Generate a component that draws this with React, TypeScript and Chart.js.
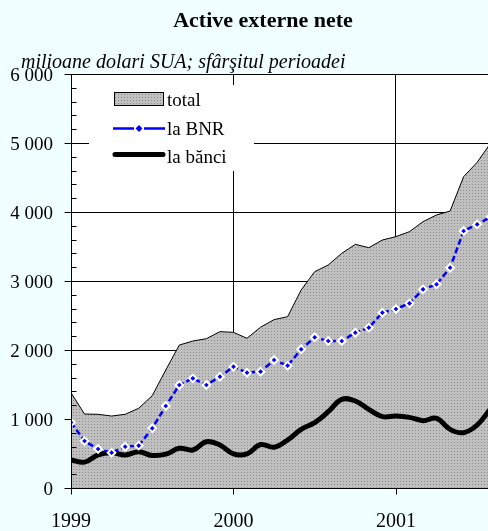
import React, { useEffect, useRef } from "react";
import { Chart, registerables } from "chart.js";

Chart.register(...registerables);

// month index, 0 = January 1999 (end of period)
const monthIndex = [0, 1, 2, 3, 4, 5, 6, 7, 8, 9, 10, 11, 12, 13, 14, 15, 16, 17, 18, 19, 20, 21, 22, 23, 24, 25, 26, 27, 28, 29, 30, 31];

const totalValues = [1380, 1072, 1068, 1043, 1068, 1155, 1338, 1710, 2072, 2130, 2164, 2266, 2256, 2169, 2330, 2440, 2483, 2870, 3135, 3232, 3401, 3531, 3483, 3594, 3643, 3715, 3860, 3957, 4014, 4512, 4720, 5000];
const bnrValues = [950, 681, 565, 512, 599, 614, 865, 1188, 1493, 1589, 1493, 1613, 1758, 1671, 1686, 1855, 1773, 2010, 2184, 2130, 2130, 2251, 2324, 2541, 2594, 2676, 2879, 2952, 3193, 3725, 3821, 3930];
const bankValues = [406, 375, 480, 510, 478, 525, 472, 490, 575, 551, 671, 623, 493, 495, 630, 590, 696, 850, 947, 1106, 1285, 1261, 1140, 1034, 1043, 1024, 976, 1010, 850, 802, 913, 1150];

const seriesNames = ["total", "la BNR", "la bănci"];
const xTickValues = [0, 12, 24];
const xTickLabels = ["1999", "2000", "2001"];
const yTickValues = [0, 1000, 2000, 3000, 4000, 5000, 6000];
const yTickLabels = ["0", "1 000", "2 000", "3 000", "4 000", "5 000", "6 000"];
const yMinorStep = 200;

const TITLE = "Active externe nete";
const SUBTITLE = "milioane dolari SUA; sfârşitul perioadei";

const BG = "#F0FFFF";
const BLUE = "#0000FF";
const SERIF = "'Liberation Serif', 'Times New Roman', serif";

function makePattern(ctx: CanvasRenderingContext2D) {
  const c = document.createElement("canvas");
  c.width = 3;
  c.height = 3;
  const p = c.getContext("2d")!;
  p.fillStyle = "#C0C0C0";
  p.fillRect(0, 0, 3, 3);
  p.fillStyle = "#8E8E8E";
  p.fillRect(1, 1, 1, 1);
  return ctx.createPattern(c, "repeat")!;
}

export default function App() {
  const ref = useRef<HTMLCanvasElement | null>(null);

  useEffect(() => {
    const canvas = ref.current!;
    const ctx0 = canvas.getContext("2d")!;
    const pattern = makePattern(ctx0);

    const decor = {
      id: "decor",
      beforeDraw(chart: any) {
        const { ctx, chartArea: a, width, height } = chart;
        ctx.save();
        ctx.fillStyle = BG;
        ctx.fillRect(0, 0, width, height);
        ctx.fillStyle = "#FFFFFF";
        ctx.fillRect(a.left, a.top, a.right - a.left, a.bottom - a.top);
        ctx.restore();
      },
      afterDatasetsDraw(chart: any) {
        const { ctx, chartArea: a } = chart;
        const xs = chart.scales.x;
        const ys = chart.scales.y;
        ctx.save();

        // legend box
        ctx.fillStyle = "#FFFFFF";
        ctx.fillRect(89, 85, 165, 86);
        // total swatch
        ctx.fillStyle = pattern;
        ctx.fillRect(114, 92, 49, 13);
        ctx.strokeStyle = "#000";
        ctx.lineWidth = 1;
        ctx.strokeRect(114.5, 92.5, 49, 13);
        // BNR sample
        ctx.strokeStyle = BLUE;
        ctx.lineWidth = 2.5;
        ctx.beginPath();
        ctx.moveTo(113, 128.5);
        ctx.lineTo(134, 128.5);
        ctx.moveTo(144, 128.5);
        ctx.lineTo(165, 128.5);
        ctx.stroke();
        ctx.fillStyle = BLUE;
        ctx.beginPath();
        ctx.moveTo(139, 125);
        ctx.lineTo(142.5, 128.5);
        ctx.lineTo(139, 132);
        ctx.lineTo(135.5, 128.5);
        ctx.closePath();
        ctx.fill();
        // banks sample
        ctx.strokeStyle = "#000";
        ctx.lineWidth = 5;
        ctx.lineCap = "round";
        ctx.beginPath();
        ctx.moveTo(115, 154.5);
        ctx.lineTo(163, 154.5);
        ctx.stroke();
        ctx.lineCap = "butt";
        ctx.fillStyle = "#000";
        ctx.font = `19px ${SERIF}`;
        ctx.textAlign = "left";
        ctx.textBaseline = "alphabetic";
        ctx.fillText(seriesNames[0], 167, 105.5);
        ctx.fillText(seriesNames[1], 167, 134.5);
        ctx.fillText(seriesNames[2], 167, 162.5);

        // axes lines
        const x0 = Math.round(xs.getPixelForValue(0)) + 0.5;
        const yb = Math.round(ys.getPixelForValue(0)) + 0.5;
        ctx.strokeStyle = "#000";
        ctx.lineWidth = 1;
        ctx.beginPath();
        ctx.moveTo(x0, a.top);
        ctx.lineTo(x0, yb);
        ctx.lineTo(a.right, yb);
        ctx.stroke();

        // y ticks
        ctx.beginPath();
        for (let v = 0; v <= 6000; v += yMinorStep) {
          const py = Math.round(ys.getPixelForValue(v)) + 0.5;
          if (v % 1000 === 0) {
            ctx.moveTo(x0 - 7, py);
            ctx.lineTo(x0, py);
          } else {
            ctx.moveTo(x0, py);
            ctx.lineTo(x0 + 5, py);
          }
        }
        // x ticks
        xTickValues.forEach((v) => {
          const px = Math.round(xs.getPixelForValue(v)) + 0.5;
          ctx.moveTo(px, yb);
          ctx.lineTo(px, yb + 6);
        });
        ctx.stroke();

        // y labels
        ctx.font = `19px ${SERIF}`;
        ctx.textAlign = "right";
        ctx.textBaseline = "alphabetic";
        yTickValues.forEach((v, i) => {
          const py = ys.getPixelForValue(v);
          ctx.fillText(yTickLabels[i], 53, py + 6.5);
        });
        // x labels
        ctx.font = `20px ${SERIF}`;
        ctx.textAlign = "center";
        xTickValues.forEach((v, i) => {
          const px = xs.getPixelForValue(v);
          ctx.fillText(xTickLabels[i], px, 527);
        });

        // titles
        ctx.font = `bold 22px ${SERIF}`;
        ctx.textAlign = "center";
        ctx.fillText(TITLE, 263, 26.5);
        ctx.font = `italic 20px ${SERIF}`;
        ctx.textAlign = "left";
        ctx.fillText(SUBTITLE, 21, 67.5);
        ctx.restore();
      },
    };

    const chart = new Chart(canvas, {
      type: "line",
      data: {
        datasets: [
          {
            label: seriesNames[1],
            data: monthIndex.map((m, i) => ({ x: m, y: bnrValues[i] })),
            borderColor: BLUE,
            borderWidth: 2.5,
            borderDash: [6, 3],
            fill: false,
            tension: 0,
            pointStyle: "rectRot",
            pointRadius: 3.8,
            pointBackgroundColor: BLUE,
            pointBorderColor: "#FFFFFF",
            pointBorderWidth: 2,
            order: 1,
          },
          {
            label: seriesNames[2],
            data: monthIndex.map((m, i) => ({ x: m, y: bankValues[i] })),
            borderColor: "#000000",
            borderWidth: 5,
            borderCapStyle: "round",
            borderJoinStyle: "round",
            fill: false,
            tension: 0.4,
            pointRadius: 0,
            order: 2,
          },
          {
            label: seriesNames[0],
            data: monthIndex.map((m, i) => ({ x: m, y: totalValues[i] })),
            borderColor: "#000000",
            borderWidth: 1,
            backgroundColor: pattern,
            fill: "origin",
            tension: 0,
            pointRadius: 0,
            order: 3,
          },
        ],
      },
      options: {
        responsive: false,
        animation: false,
        devicePixelRatio: 1,
        layout: { autoPadding: false, padding: { top: 74, left: 0, right: 0, bottom: 0 } },
        plugins: {
          legend: { display: false },
          tooltip: { enabled: false },
          title: { display: false },
        },
        scales: {
          x: {
            type: "linear",
            min: 0,
            max: 30.8,
            afterBuildTicks: (s: any) => {
              s.ticks = xTickValues.map((v) => ({ value: v }));
            },
            afterFit: (s: any) => {
              s.height = 43;
            },
            grid: { color: "#000000", lineWidth: 1, drawTicks: false },
            border: { display: false },
            ticks: { display: false },
          },
          y: {
            type: "linear",
            min: 0,
            max: 6000,
            afterBuildTicks: (s: any) => {
              s.ticks = yTickValues.map((v) => ({ value: v }));
            },
            afterFit: (s: any) => {
              s.width = 71;
            },
            grid: { color: "#000000", lineWidth: 1, drawTicks: false },
            border: { display: false },
            ticks: { display: false },
          },
        },
      },
      plugins: [decor],
    } as any);

    return () => chart.destroy();
  }, []);

  return (
    <div style={{ position: "fixed", left: 0, top: 0, width: 488, height: 531, background: BG }}>
      <canvas ref={ref} width={488} height={531} style={{ display: "block", width: 488, height: 531 }} />
    </div>
  );
}
